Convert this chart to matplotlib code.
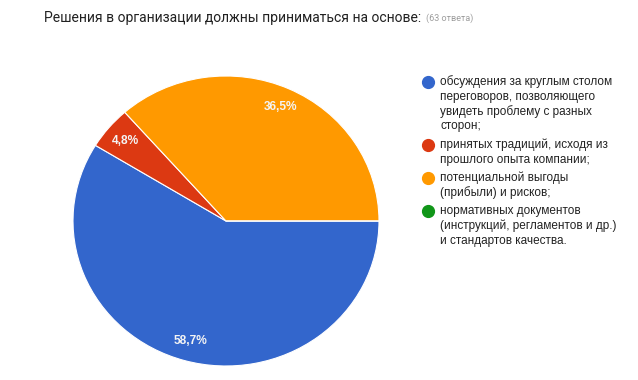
import matplotlib.pyplot as plt
from matplotlib.lines import Line2D

# survey answers (63 responses)
labels = [
    "обсуждения за круглым столом\nпереговоров, позволяющего\nувидеть проблему с разных\nсторон;",
    "принятых традиций, исходя из\nпрошлого опыта компании;",
    "потенциальной выгоды\n(прибыли) и рисков;",
    "нормативных документов\n(инструкций, регламентов и др.)\nи стандартов качества.",
]
counts = [37, 3, 23, 0]
colors = ["#3366cc", "#dc3912", "#ff9900", "#109618"]
total = 63


def pct_label(p):
    if p < 0.05:
        return ""
    return ("%.1f%%" % p).replace(".", ",")


fig = plt.figure(figsize=(6.38, 3.8), dpi=100)
fig.patch.set_facecolor("white")

W, H = 638, 380
# pie box in pixels: left 73, right 379, top 76, bottom 366
ax = fig.add_axes([73 / W, (H - 366) / H, 306 / W, 290 / H])
wedges, texts, autotexts = ax.pie(
    counts, colors=colors, startangle=0, counterclock=False,
    autopct=pct_label, pctdistance=0.86, radius=1,
    wedgeprops=dict(edgecolor="white", linewidth=0.8),
    textprops=dict(color="#f4f4f4", fontsize=8.6, weight="bold",
                   family="Liberation Sans"),
)
ax.set_aspect("auto")
ax.set_xlim(-1, 1)
ax.set_ylim(-1, 1)
ax.axis("off")

# title
title = fig.text(44 / W, 1 - 18 / H, "Решения в организации должны приниматься на основе:",
                 fontsize=10, family="Roboto",
                 color="#212121", va="center", ha="left")
fig.canvas.draw()
bb = title.get_window_extent()
fig.text((bb.x1 + 5) / W, 1 - 18 / H, "(63 ответа)", fontsize=6.5, family="Roboto",
         color="#9e9e9e", va="center", ha="left")

# legend, drawn line by line
y = 82.0
line_h = 14.8
gap = 3.5
for lab, c in zip(labels, colors):
    fig.add_artist(Line2D([428 / W], [1 - y / H], marker="o", markersize=8.5,
                          markerfacecolor=c, markeredgecolor=c,
                          transform=fig.transFigure))
    for line in lab.split("\n"):
        fig.text(440 / W, 1 - y / H, line, fontsize=8.5, family="Liberation Sans",
                 color="#222222", va="center", ha="left")
        y += line_h
    y += gap

fig.savefig("out.png", dpi=100, facecolor="white")
